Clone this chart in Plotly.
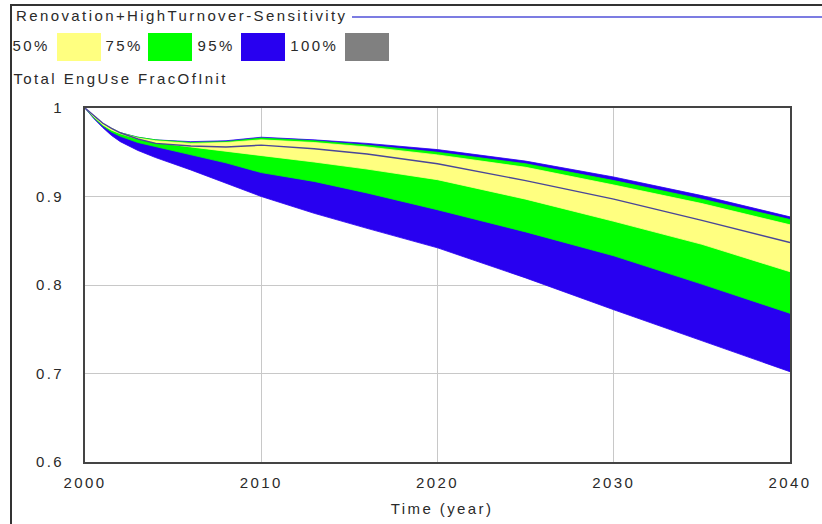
import plotly.graph_objects as go

# Simulation time (years)
years = [2000, 2000.5, 2001, 2001.5, 2002, 2003, 2004, 2006, 2008, 2010, 2013, 2016, 2020, 2025, 2030, 2035, 2040]

# Sensitivity bands of Total EngUse FracOfInit (lower / upper bound per confidence level)
high95 = [1.0, 0.990, 0.982, 0.977, 0.972, 0.967, 0.964, 0.962, 0.963, 0.967, 0.964, 0.960, 0.953, 0.940, 0.922, 0.901, 0.877]
low95 = [1.0, 0.988, 0.978, 0.969, 0.962, 0.952, 0.944, 0.930, 0.915, 0.900, 0.881, 0.864, 0.842, 0.808, 0.772, 0.737, 0.702]
high75 = [1.0, 0.990, 0.982, 0.977, 0.972, 0.967, 0.964, 0.961, 0.962, 0.966, 0.963, 0.958, 0.950, 0.937, 0.918, 0.897, 0.874]
low75 = [1.0, 0.989, 0.980, 0.973, 0.968, 0.961, 0.956, 0.947, 0.938, 0.927, 0.917, 0.904, 0.885, 0.860, 0.833, 0.801, 0.768]
high50 = [1.0, 0.990, 0.982, 0.977, 0.972, 0.966, 0.963, 0.960, 0.961, 0.964, 0.961, 0.956, 0.947, 0.933, 0.913, 0.892, 0.868]
low50 = [1.0, 0.990, 0.981, 0.975, 0.971, 0.965, 0.961, 0.956, 0.951, 0.946, 0.939, 0.931, 0.919, 0.897, 0.872, 0.846, 0.815]

# Base run
base = [1.0, 0.991, 0.983, 0.977, 0.972, 0.965, 0.960, 0.957, 0.956, 0.958, 0.954, 0.948, 0.937, 0.918, 0.897, 0.873, 0.848]

band_labels = ["50%", "75%", "95%", "100%"]
y_ticks = [0.6, 0.7, 0.8, 0.9, 1.0]
y_ticktext = ["0.6", "0.7", "0.8", "0.9", "1"]
x_ticks = [2000, 2010, 2020, 2030, 2040]

title_text = "Renovation+HighTurnover-Sensitivity"
var_text = "Total EngUse FracOfInit"
x_title = "Time (year)"

YELLOW = "#ffff80"
GREEN = "#00ff00"
BLUE = "#2800f0"
GRAY = "#808080"
band_colors = [YELLOW, GREEN, BLUE, GRAY]
TEXT = "#2a2a2a"
FONT = "Liberation Sans, Arial, sans-serif"

W, H = 822, 524
L, R, T, B = 85, 790, 108, 462


def px(x):
    return (x - L) / (R - L)


def py(y):
    return (B - y) / (B - T)


fig = go.Figure()


def band(lo, hi, color):
    fig.add_trace(go.Scatter(
        x=years + years[::-1], y=hi + lo[::-1],
        fill="toself", fillcolor=color, mode="lines",
        line=dict(color=color, width=0.8), hoverinfo="skip", showlegend=False))


band(low95, high95, BLUE)
band(low75, high75, GREEN)
band(low50, high50, YELLOW)

fig.add_trace(go.Scatter(x=years, y=base, mode="lines",
                         line=dict(color="#4a4698", width=1.4), showlegend=False))

shapes = []
annotations = []

# outer frame (top and left edges)
shapes.append(dict(type="line", xref="paper", yref="paper", x0=px(10), x1=px(822), y0=py(5), y1=py(5),
                   line=dict(color="#333333", width=2)))
shapes.append(dict(type="line", xref="paper", yref="paper", x0=px(11), x1=px(11), y0=py(5), y1=py(524),
                   line=dict(color="#333333", width=2)))
# run line sample next to the title
shapes.append(dict(type="line", xref="paper", yref="paper", x0=px(352), x1=px(822), y0=py(17), y1=py(17),
                   line=dict(color="#5050d8", width=1.5)))


def label(text, cx, cy):
    # centred annotations stay centred when the letter spacing widens them
    annotations.append(dict(text=text, xref="paper", yref="paper", x=px(cx), y=py(cy),
                            xanchor="center", yanchor="middle", showarrow=False,
                            font=dict(family=FONT, size=15, color=TEXT)))


label(title_text, 182, 16)
label(var_text, 121, 79)

# band legend: label then swatch
label_cx = [31, 124, 216, 314]
box_x = [57, 148, 241, 345]
for lab, lx, bx, col in zip(band_labels, label_cx, box_x, band_colors):
    label(lab, lx, 45)
    shapes.append(dict(type="rect", xref="paper", yref="paper", x0=px(bx), x1=px(bx + 44),
                       y0=py(61), y1=py(33), fillcolor=col, line=dict(width=0)))

label(x_title, 442, 508)

fig.update_layout(
    width=W, height=H,
    margin=dict(l=L, r=W - R, t=T, b=H - B),
    paper_bgcolor="white", plot_bgcolor="white",
    shapes=shapes, annotations=annotations,
    font=dict(family=FONT, size=15, color=TEXT),
)
fig.update_xaxes(range=[2000, 2040], tickvals=x_ticks, showgrid=True, gridcolor="#c8c8c8", gridwidth=1,
                 showline=True, linecolor="#444444", linewidth=2, mirror=True, zeroline=False,
                 ticks="", ticklabelstandoff=6)
fig.update_yaxes(range=[0.6, 1.0], tickvals=y_ticks, ticktext=y_ticktext, showgrid=True,
                 gridcolor="#c8c8c8", gridwidth=1, showline=True, linecolor="#444444", linewidth=2,
                 mirror=True, zeroline=False, ticks="", ticklabelstandoff=16)

# wide letter spacing for all chart text
spacing_js = """
var gd = document.getElementById('{plot_id}');
gd.querySelectorAll('text').forEach(function (t) { t.style.letterSpacing = '2.4px'; });
"""

fig.write_html("out.html", post_script=spacing_js)
